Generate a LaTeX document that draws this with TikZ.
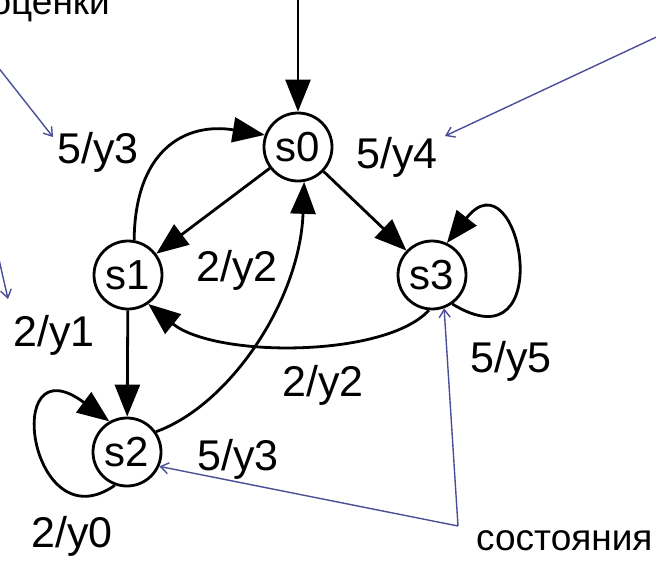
\documentclass[tikz,border=0pt]{standalone}
\usepackage{fontspec}
\setmainfont{Liberation Sans}
\usetikzlibrary{arrows.meta}
\definecolor{notec}{RGB}{74,78,152}
\begin{document}
\begin{tikzpicture}[x=1pt,y=-1pt]
\tikzset{
  st/.style={circle, draw, line width=2.8pt, minimum size=68pt, inner sep=0pt, font=\fontsize{42}{44}\selectfont},
  lbl/.style={font=\fontsize{43}{45}\selectfont, anchor=base, inner sep=0pt},
  tr/.style={line width=2.8pt, -{Triangle[length=32pt,width=25pt]}},
  note/.style={draw=notec, line width=1.4pt, -{Straight Barb[length=8pt,width=11pt]}},
  notetext/.style={font=\fontsize{37}{40}\selectfont, inner sep=0pt}
}
\path[use as bounding box] (0,0) rectangle (656,560);
\clip (0,0) rectangle (656,560);

% states
\node[st] (s0) at (298,147) {s0};
\node[st] (s1) at (128,275) {s1};
\node[st] (s3) at (432,275) {s3};
\node[st] (s2) at (127,452) {s2};

% transitions
\coordinate (init) at (298,-2);
\draw[tr] (init) -- (s0);
\draw[tr] (s0) -- (s1);
\draw[tr] (s0) -- (s3);
\draw[tr] (s1) -- (s2);
\draw[tr] (s1.80) .. controls (135,150) and (185,122) .. (s0.160);
\draw[tr] (s2.35) .. controls (230,405) and (300,300) .. (s0.-80);
\draw[tr] (s3.-95) .. controls (385,358) and (215,358) .. (s1.-55);
\draw[tr] (s3.-55) .. controls (560,370) and (520,150) .. (s3.65);
\draw[tr] (s2.-110) .. controls (30,545) and (0,340) .. (s2.120);

% labels
\node[lbl] (l1) at (98,163) {5/y3};
\node[lbl] (l2) at (397,168) {5/y4};
\node[lbl] (l3) at (237,281) {2/y2};
\node[lbl] (l4) at (54,346) {2/y1};
\node[lbl] (l5) at (323,396) {2/y2};
\node[lbl] (l6) at (511,372) {5/y5};
\node[lbl] (l7) at (238,470) {5/y3};
\node[lbl] (l8) at (72,547) {2/y0};

% annotations
\node[notetext, anchor=base east] (t1) at (110,14) {оценки};
\node[notetext, anchor=base west] (t2) at (476,550) {состояния};

\coordinate (b1) at (-10,57);
\coordinate (n1) at (53,137);
\coordinate (b2) at (680,26);
\coordinate (n2) at (445,136);
\coordinate (b3) at (-2,255);
\coordinate (n3) at (8,299);
\coordinate (v) at (458,526);
\draw[note] (b1) -- (n1);
\draw[note] (b2) -- (n2);
\draw[note] (b3) -- (n3);
\draw[note] (v) -- (s3.-70);
\draw[note] (v) -- (s2.-24);
\end{tikzpicture}
\end{document}
